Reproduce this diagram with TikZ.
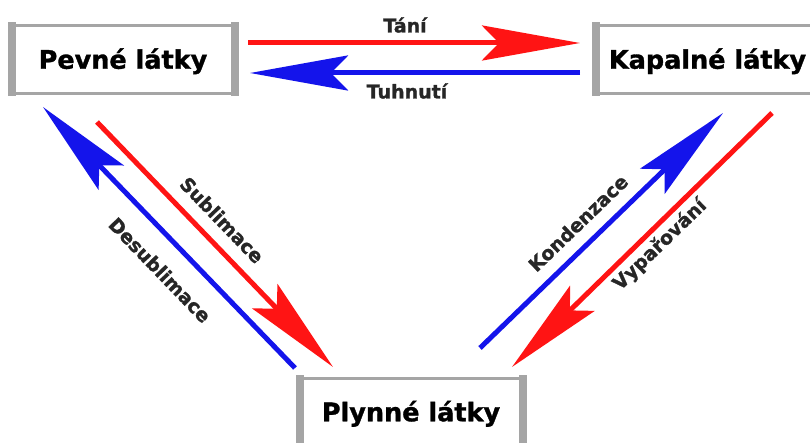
\documentclass[tikz,border=0pt]{standalone}
\usepackage{fontspec}
\setmainfont{DejaVu Sans}[BoldFeatures={FakeBold=1.3}]
\usetikzlibrary{arrows.meta}
\definecolor{boxgray}{RGB}{165,165,165}
\definecolor{ared}{RGB}{255,20,20}
\definecolor{ablue}{RGB}{20,20,235}
\begin{document}
\begin{tikzpicture}[x=1pt,y=-1pt,
  state/.style={fill=white, draw=boxgray, line width=3pt, minimum width=225pt,
    minimum height=68pt, inner sep=0pt, text height=18.5pt, text depth=0pt,
    font=\fontsize{25.5}{30}\selectfont\bfseries},
  lbl/.style={inner sep=0pt, font=\fontsize{19}{22}\selectfont\bfseries, text=black!85},
  conn/.style={line width=5pt, -{Stealth[length=98pt,width=35pt,inset=17pt]}},
  redc/.style={conn, draw=ared, fill=ared},
  bluec/.style={conn, draw=ablue, fill=ablue}]
\useasboundingbox (0,0) rectangle (810,443);
\clip (0,0) rectangle (810,443);
\fill[white] (0,0) rectangle (810,443);

\node[state] (p) at (123,59.5) {Pevné látky};
\node[state] (k) at (707.5,59.5) {Kapalné látky};
\node[state] (g) at (411,412) {Plynné látky};
\foreach \n in {p,k,g}{
  \fill[boxgray] ([xshift=-1.5pt,yshift=1.5pt]\n.north west) rectangle ([xshift=6.5pt,yshift=-1.5pt]\n.south west);
  \fill[boxgray] ([xshift=1.5pt,yshift=1.5pt]\n.north east) rectangle ([xshift=-6.5pt,yshift=-1.5pt]\n.south east);
}

\coordinate (tA) at (248,43);  \coordinate (tB) at (580,43);
\coordinate (uA) at (580,73);  \coordinate (uB) at (250,73);
\coordinate (sA) at (97,122);  \coordinate (sB) at (333,367);
\coordinate (dA) at (295,368); \coordinate (dB) at (43,107);
\coordinate (kA) at (480,348); \coordinate (kB) at (723,113);
\coordinate (vA) at (772,113); \coordinate (vB) at (512,367);

\draw[redc] (tA) -- (tB);
\draw[bluec] (uA) -- (uB);
\draw[redc] (sA) -- (sB);
\draw[bluec] (dA) -- (dB);
\draw[bluec] (kA) -- (kB);
\draw[redc] (vA) -- (vB);

\node[lbl] (lt) at (405,25) {Tání};
\node[lbl] (lu) at (407,91) {Tuhnutí};
\node[lbl, rotate=-46] (ls) at (222,220) {Sublimace};
\node[lbl, rotate=-46] (ld) at (160,270) {Desublimace};
\node[lbl, rotate=44] (lk) at (578,223) {Kondenzace};
\node[lbl, rotate=44] (lv) at (660,245) {Vypařování};
\end{tikzpicture}
\end{document}
